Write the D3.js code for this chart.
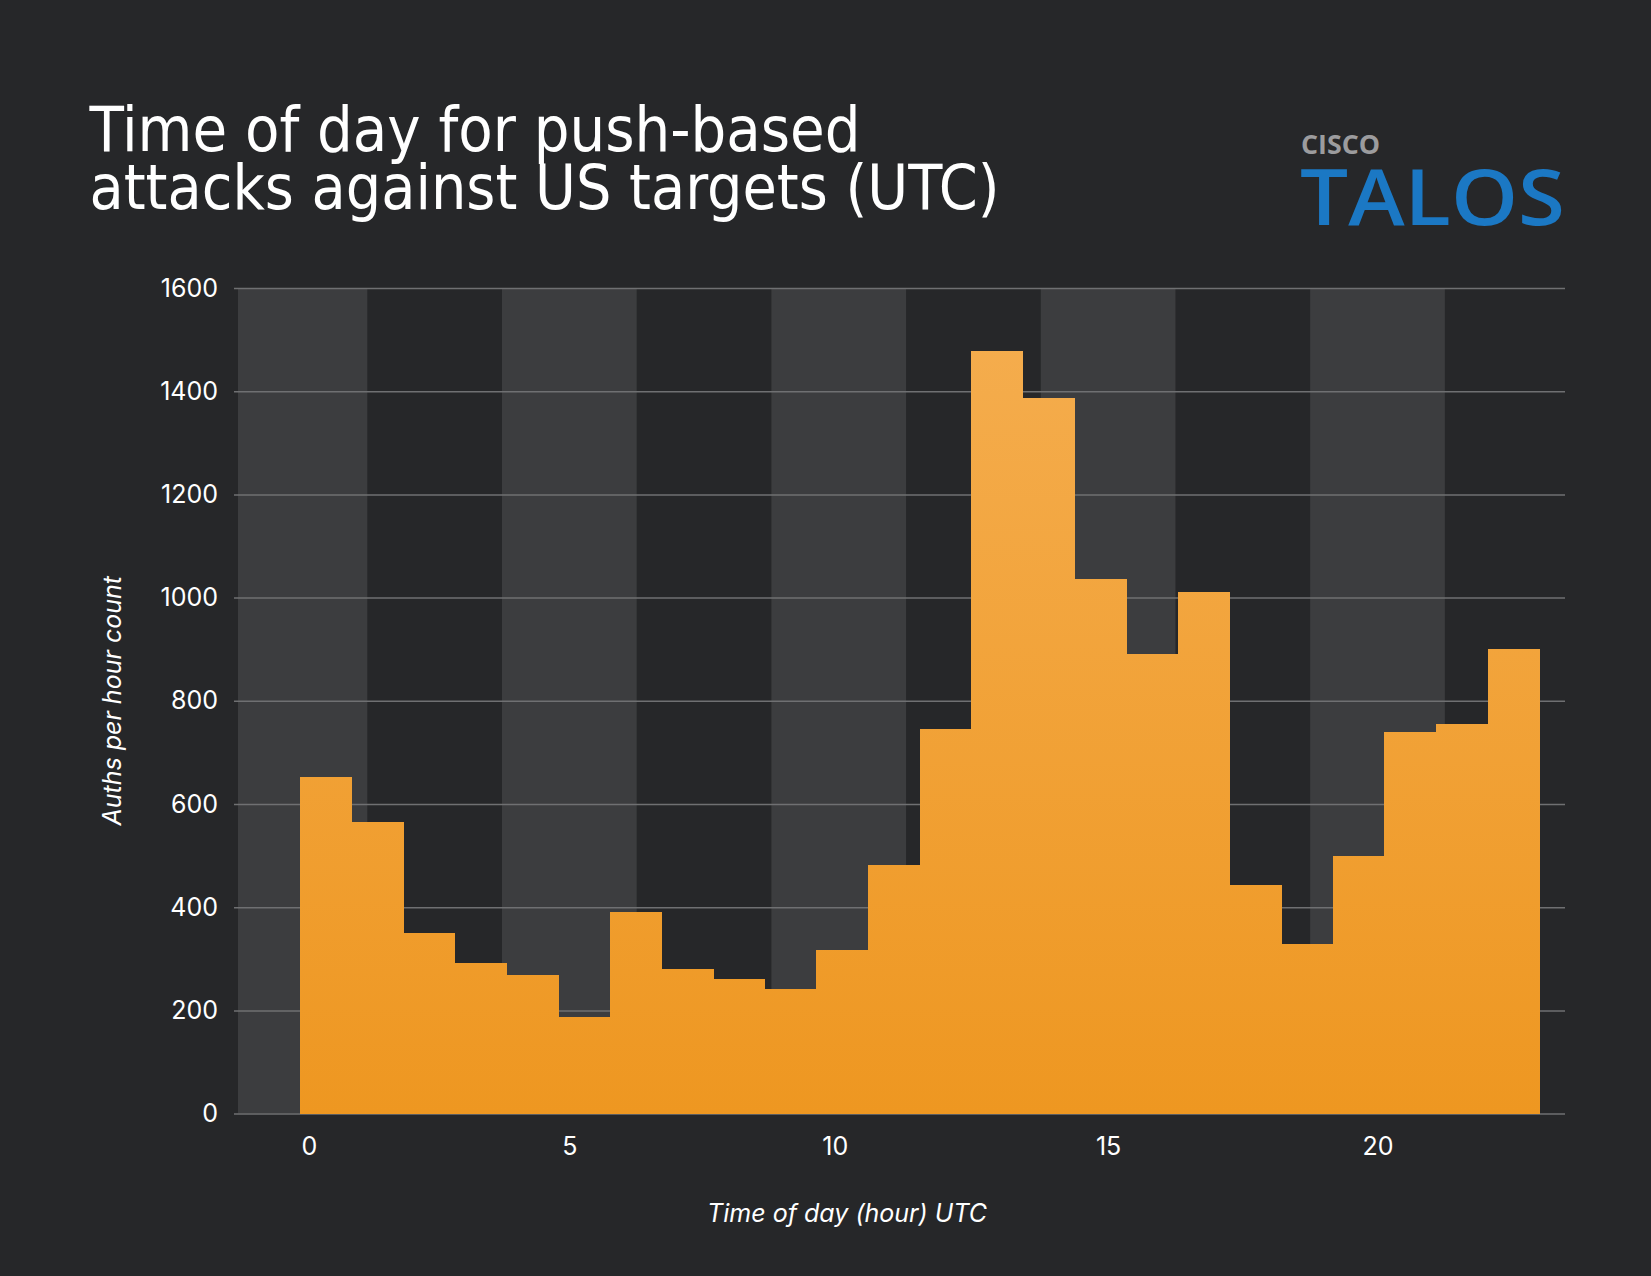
<!DOCTYPE html>
<html>
<head>
<meta charset="utf-8">
<script src="https://cdn.jsdelivr.net/npm/d3@7"></script>
<style>
  html, body { margin: 0; padding: 0; background: #262729; }
  svg { display: block; }
</style>
</head>
<body>
<svg id="chart" width="1651" height="1276"></svg>
<script>
// ---- data ----
const hours = d3.range(24);
const counts = [652, 565, 350, 291, 268, 187, 390, 281, 261, 241, 317, 482,
                745, 1478, 1386, 1036, 890, 1010, 443, 329, 500, 739, 755, 901];
const xTicks = [0, 5, 10, 15, 20];
const yTicks = [0, 200, 400, 600, 800, 1000, 1200, 1400, 1600];
const bandCenters = [0, 5, 10, 15, 20];
const titleLines = ["Time of day for push-based", "attacks against US targets (UTC)"];
const xLabel = "Time of day (hour) UTC";
const yLabel = "Auths per hour count";

// ---- layout ----
const W = 1651, H = 1276;
const plot = { left: 238, right: 1565, top: 288, bottom: 1113.6 };
const svg = d3.select("#chart");
svg.append("rect").attr("width", W).attr("height", H).attr("fill", "#262729");

const x = d3.scaleLinear().domain([-1.15, 23.48]).range([plot.left, plot.right]);
const y = d3.scaleLinear().domain([0, 1600]).range([plot.bottom, plot.top]);
const binW = 23 / 24;

const defs = svg.append("defs");
const grad = defs.append("linearGradient").attr("id", "barGrad")
  .attr("gradientUnits", "userSpaceOnUse")
  .attr("x1", 0).attr("x2", 0).attr("y1", y(1600)).attr("y2", y(0));
grad.append("stop").attr("offset", "0%").attr("stop-color", "#f5ae50");
grad.append("stop").attr("offset", "100%").attr("stop-color", "#ee9721");
defs.append("clipPath").attr("id", "plotClip").append("rect")
  .attr("x", plot.left).attr("y", plot.top)
  .attr("width", plot.right - plot.left).attr("height", plot.bottom - plot.top);

// shaded bands
svg.append("g").attr("clip-path", "url(#plotClip)")
  .selectAll("rect").data(bandCenters).join("rect")
  .attr("x", d => x(d - 1.25))
  .attr("width", d => x(d + 1.25) - x(d - 1.25))
  .attr("y", y(1600)).attr("height", y(0) - y(1600))
  .attr("fill", "#3c3d3f");

// y axis with gridlines
const gridX0 = 234;
const yAxis = svg.append("g").attr("transform", `translate(${gridX0},0)`)
  .call(d3.axisLeft(y).tickValues(yTicks).tickFormat(d3.format("d"))
    .tickSize(-(plot.right - gridX0)).tickPadding(16));
yAxis.select(".domain").remove();
yAxis.selectAll(".tick line").attr("stroke", "#6f7072").attr("stroke-width", 1.5);
yAxis.selectAll(".tick text").attr("fill", "#ffffff")
  .attr("font-family", "Inter, Roboto, 'Noto Sans', sans-serif")
  .attr("font-size", 25);

// bars
svg.append("g").attr("shape-rendering", "crispEdges")
  .selectAll("rect").data(hours).join("rect")
  .attr("x", d => x(d * binW))
  .attr("width", d => x((d + 1) * binW) - x(d * binW) + 0.6)
  .attr("y", d => y(counts[d]))
  .attr("height", d => y(0) - y(counts[d]))
  .attr("fill", "url(#barGrad)");

// x axis
const xAxis = svg.append("g").attr("transform", `translate(0,${plot.bottom})`)
  .call(d3.axisBottom(x).tickValues(xTicks).tickSize(0).tickPadding(24).tickFormat(d3.format("d")));
xAxis.select(".domain").remove();
xAxis.selectAll(".tick text").attr("fill", "#ffffff")
  .attr("font-family", "Inter, Roboto, 'Noto Sans', sans-serif")
  .attr("font-size", 25)
  .attr("dx", d => d === 0 ? 9 : (d === 10 ? -4 : 0));

// axis titles
svg.append("text").text(xLabel)
  .attr("x", 847).attr("y", 1221.5).attr("text-anchor", "middle")
  .attr("fill", "#ffffff").attr("font-style", "italic")
  .attr("font-family", "Inter, Roboto, 'Noto Sans', sans-serif").attr("font-size", 25);
svg.append("text").text(yLabel)
  .attr("transform", `translate(121,${(plot.top + plot.bottom) / 2}) rotate(-90)`)
  .attr("text-anchor", "middle")
  .attr("fill", "#ffffff").attr("font-style", "italic")
  .attr("font-family", "Inter, Roboto, 'Noto Sans', sans-serif").attr("font-size", 25);

// title (one text element, two lines)
const titleLens = [771, 910];
const title = svg.append("text")
  .attr("fill", "#ffffff")
  .attr("font-family", "'Liberation Sans Narrow', 'DejaVu Sans Condensed', sans-serif")
  .attr("font-size", 62);
titleLines.forEach((t, i) => {
  title.append("tspan").text(t)
    .attr("x", 89.5).attr("y", 150.6 + i * 58)
    .attr("textLength", titleLens[i]).attr("lengthAdjust", "spacingAndGlyphs");
});

// logo (one text element)
const logo = svg.append("text")
  .attr("font-family", "'Open Sans', 'DejaVu Sans', sans-serif")
  .attr("font-weight", "bold");
logo.append("tspan").text("CISCO")
  .attr("x", 1301).attr("y", 154)
  .attr("fill", "#9c9c9e").attr("font-size", 26)
  .attr("textLength", 79).attr("lengthAdjust", "spacingAndGlyphs");
logo.append("tspan").text("TALOS")
  .attr("x", 1300).attr("y", 225)
  .attr("fill", "#1b78c4").attr("font-size", 78).attr("font-weight", 600)
  .attr("textLength", 265).attr("lengthAdjust", "spacingAndGlyphs");
</script>
</body>
</html>
